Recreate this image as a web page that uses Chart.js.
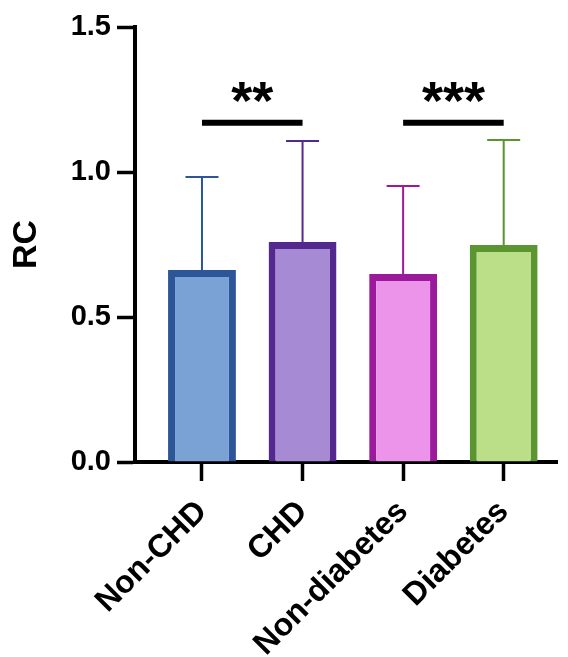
<!DOCTYPE html>
<html>
<head>
<meta charset="utf-8">
<script src="https://cdn.jsdelivr.net/npm/chart.js@4"></script>
<style>
  html, body { margin: 0; padding: 0; background: #fff; }
  #wrap { width: 568px; height: 657px; }
</style>
</head>
<body>
<div id="wrap"><canvas id="myChart"></canvas></div>
<script>
// data
const categories = ['Non-CHD', 'CHD', 'Non-diabetes', 'Diabetes'];
const means = [0.662, 0.759, 0.648, 0.748];
const sds = [0.321, 0.348, 0.304, 0.362];
const yTicks = [0, 0.5, 1.0, 1.5];
const sigPairs = [[0, 1], [2, 3]];
const sigLabels = ['**', '***'];
const sigLevel = 1.17;

const fillColors = ['#7ba2d5', '#a68ad3', '#eb94e9', '#bbdf88'];
const lineColors = ['#2c5697', '#53298f', '#9b1a9c', '#5a9530'];
const fontFamily = "'Liberation Sans', Arial, sans-serif";

// error bars (upper only), drawn under the bars so the stem starts at the bar top
const errorBars = {
  id: 'errorBars',
  beforeDatasetsDraw(chart) {
    const {ctx, scales: {x, y}} = chart;
    ctx.save();
    ctx.lineWidth = 2;
    means.forEach((m, i) => {
      const px = x.getPixelForValue(i);
      const y0 = y.getPixelForValue(m);
      const y1 = y.getPixelForValue(m + sds[i]);
      ctx.strokeStyle = lineColors[i];
      ctx.beginPath();
      ctx.moveTo(px, y0);
      ctx.lineTo(px, y1);
      ctx.moveTo(px - 16.5, y1);
      ctx.lineTo(px + 16.5, y1);
      ctx.stroke();
    });
    ctx.restore();
  }
};

// significance brackets
const sigMarks = {
  id: 'sigMarks',
  afterDatasetsDraw(chart) {
    const {ctx, scales: {x, y}} = chart;
    const py = y.getPixelForValue(sigLevel);
    ctx.save();
    ctx.strokeStyle = '#000';
    ctx.fillStyle = '#000';
    ctx.lineWidth = 6;
    ctx.lineCap = 'butt';
    ctx.font = 'bold 54px ' + fontFamily;
    ctx.textAlign = 'center';
    ctx.textBaseline = 'alphabetic';
    sigPairs.forEach((p, k) => {
      const xa = x.getPixelForValue(p[0]);
      const xb = x.getPixelForValue(p[1]);
      ctx.beginPath();
      ctx.moveTo(xa, py);
      ctx.lineTo(xb, py);
      ctx.stroke();
      ctx.fillText(sigLabels[k], (xa + xb) / 2, py - 4);
    });
    ctx.restore();
  }
};

const ctx = document.getElementById('myChart');
new Chart(ctx, {
  type: 'bar',
  data: {
    datasets: [{
      data: means.map((m, i) => ({x: i, y: m})),
      backgroundColor: fillColors,
      borderColor: lineColors,
      borderWidth: 7,
      borderSkipped: 'start',
      categoryPercentage: 1,
      barPercentage: 0.675
    }]
  },
  options: {
    responsive: true,
    maintainAspectRatio: false,
    animation: false,
    layout: {padding: {top: 27, right: 11, left: 0, bottom: 0}},
    plugins: {legend: {display: false}, tooltip: {enabled: false}},
    scales: {
      x: {
        type: 'linear',
        offset: false,
        min: -0.666,
        max: 3.53,
        afterFit: s => { s.height = 195; },
        afterBuildTicks: s => { s.ticks = categories.map((c, i) => ({value: i})); },
        grid: {offset: false, drawOnChartArea: false, tickLength: 19, tickWidth: 3.5, tickColor: '#000'},
        border: {display: true, width: 4, color: '#000'},
        ticks: {
          callback: v => categories[v],
          minRotation: 45,
          maxRotation: 45,
          padding: 12,
          color: '#000',
          font: {family: fontFamily, size: 32, weight: 'bold'}
        }
      },
      y: {
        min: 0,
        max: 1.5,
        afterFit: s => { s.width = 135; },
        afterBuildTicks: s => { s.ticks = yTicks.map(v => ({value: v})); },
        grid: {drawOnChartArea: false, tickLength: 18, tickWidth: 3.5, tickColor: '#000'},
        border: {display: true, width: 4, color: '#000'},
        ticks: {
          callback: v => v.toFixed(1),
          padding: 6,
          color: '#000',
          font: {family: fontFamily, size: 29, weight: 'bold'}
        },
        title: {
          display: true,
          text: 'RC',
          color: '#000',
          padding: {top: 10, bottom: 0},
          font: {family: fontFamily, size: 34, weight: 'bold', lineHeight: 1}
        }
      }
    }
  },
  plugins: [errorBars, sigMarks]
});
</script>
</body>
</html>
